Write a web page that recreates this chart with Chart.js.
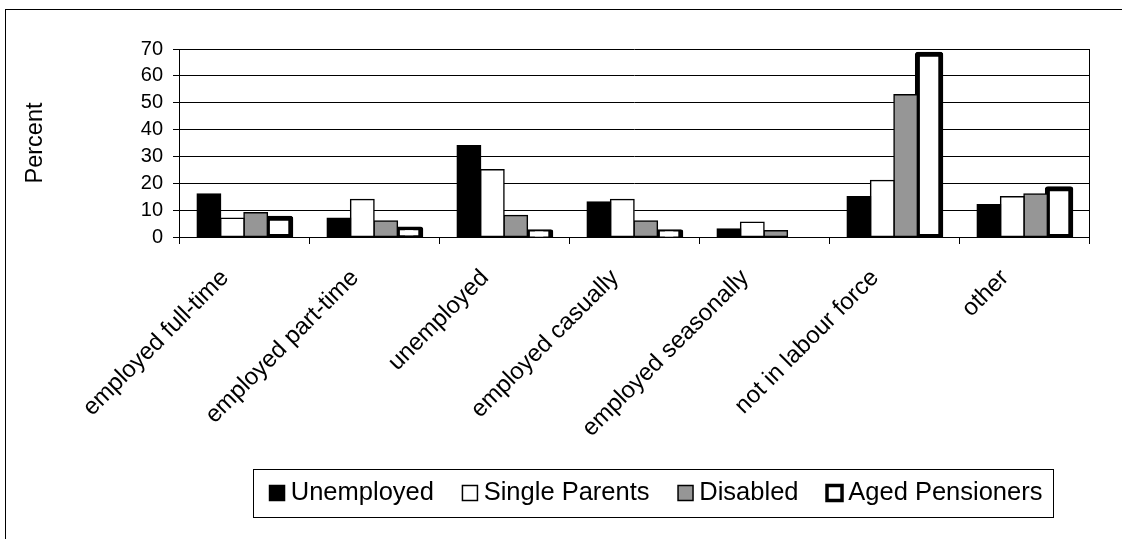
<!DOCTYPE html>
<html>
<head>
<meta charset="utf-8">
<script src="https://cdn.jsdelivr.net/npm/chart.js@4/dist/chart.umd.min.js"></script>
<style>
  html, body { margin: 0; padding: 0; background: #fff; overflow: hidden; }
  #wrap { position: relative; width: 1122px; height: 539px; overflow: hidden; }
  #frame { position: absolute; left: 5px; top: 9px; width: 1200px; height: 600px;
           border: 1px solid #000; box-sizing: border-box; }
  #c { position: absolute; left: 0; top: 0; }
</style>
</head>
<body>
<div id="wrap">
  <div id="frame"></div>
  <canvas id="c" width="1122" height="539"></canvas>
</div>
<script>
// Labour force status by income-support group (percent)
const categories = [
  'employed full-time', 'employed part-time', 'unemployed', 'employed casually',
  'employed seasonally', 'not in labour force', 'other'
];
const unemployed     = [16, 7, 34, 13, 3, 15, 12];
const singleParents  = [7, 14, 25, 14, 5.5, 21, 15];
const disabled       = [9, 6, 8, 6, 2.3, 53, 16];
const agedPensioners = [7, 3, 2, 2, 0, 68, 18];
const yMin = 0, yMax = 70, yStep = 10;

Chart.defaults.font.family = '"Liberation Sans", Arial, sans-serif';
Chart.defaults.color = '#000';

const LEGEND_FONT = 25.5;
const LEGEND_PAD = 35;
const LEGEND_BOX = 15;
const LEGEND_CENTER_X = 656;

// Centre the legend row under the plot and draw a frame around it
const legendFrame = {
  id: 'legendFrame',
  beforeDraw(chart) {
    const lg = chart.legend;
    const hb = lg.legendHitBoxes;
    if (!hb || !hb.length) return;
    const last = hb[hb.length - 1];
    const x0 = hb[0].left - (LEGEND_BOX / 2 - 1);
    const x1 = last.left + last.width;
    const d = LEGEND_CENTER_X - (x0 + x1) / 2;
    lg.left += d;
    lg.right += d;
    hb.forEach(h => { h.left += d; });
  },
  afterDraw(chart) {
    const hb = chart.legend.legendHitBoxes;
    if (!hb || !hb.length) return;
    const first = hb[0], last = hb[hb.length - 1];
    const cy = first.top + first.height / 2;
    const ctx = chart.ctx;
    ctx.save();
    ctx.strokeStyle = '#000';
    ctx.lineWidth = 1;
    const x0 = Math.round(first.left - (LEGEND_BOX / 2 - 1) - 17) + 0.5;
    const x1 = Math.round(last.left + last.width + 11) + 0.5;
    const y0 = Math.round(cy - 24) + 0.5;
    const y1 = Math.round(cy + 24) + 0.5;
    ctx.strokeRect(x0, y0, x1 - x0, y1 - y0);
    ctx.restore();
  }
};

const thin = { borderColor: '#000', borderWidth: 1.5, borderSkipped: false, inflateAmount: 0.75 };

new Chart(document.getElementById('c'), {
  type: 'bar',
  data: {
    labels: categories,
    datasets: [
      Object.assign({ label: 'Unemployed', data: unemployed, backgroundColor: '#000' }, thin),
      Object.assign({ label: 'Single Parents', data: singleParents, backgroundColor: '#fff' }, thin),
      Object.assign({ label: 'Disabled', data: disabled, backgroundColor: '#969696' }, thin),
      { label: 'Aged Pensioners', data: agedPensioners, backgroundColor: '#fff',
        borderColor: '#000', borderWidth: 5, borderSkipped: false,
        borderRadius: 3, inflateAmount: 2.5 }
    ]
  },
  options: {
    responsive: false,
    animation: false,
    events: [],
    categoryPercentage: 0.72,
    barPercentage: 1,
    layout: { padding: { top: 49, right: 33, bottom: 23.25, left: 0 } },
    plugins: {
      tooltip: { enabled: false },
      legend: {
        position: 'bottom',
        labels: {
          font: { size: LEGEND_FONT },
          color: '#000',
          usePointStyle: true,
          pointStyle: 'rect',
          boxWidth: 2,
          boxHeight: LEGEND_BOX,
          padding: LEGEND_PAD,
          generateLabels(chart) {
            const items = Chart.defaults.plugins.legend.labels.generateLabels(chart);
            items.forEach(it => { if (it.lineWidth > 2) it.lineWidth = 3.5; });
            return items;
          }
        }
      }
    },
    scales: {
      x: {
        offset: true,
        afterFit(axis) { axis.height = 445.25 - 237; },
        grid: { display: true, drawOnChartArea: false, drawTicks: true, tickLength: 7,
                offset: true, color: '#000', lineWidth: 1 },
        border: { display: true, color: '#000', width: 1 },
        ticks: { autoSkip: false, minRotation: 45, maxRotation: 45, padding: 20,
                 labelOffset: -19, font: { size: 24 }, color: '#000' }
      },
      y: {
        min: yMin, max: yMax,
        afterFit(axis) { axis.width = 179; },
        grid: { color: '#000', lineWidth: 1, drawTicks: true, tickLength: 6 },
        border: { display: true, color: '#000', width: 1 },
        ticks: { stepSize: yStep, autoSkip: false, padding: 10, font: { size: 20 }, color: '#000' },
        title: { display: true, text: 'Percent', font: { size: 23.5 }, color: '#000',
                 padding: { top: 21, bottom: 0 } }
      },
      y2: {
        position: 'right',
        min: yMin, max: yMax,
        afterFit(axis) { axis.width = 0; },
        grid: { display: false, drawTicks: false },
        border: { display: true, color: '#000', width: 1 },
        ticks: { display: false }
      }
    }
  },
  plugins: [legendFrame]
});
</script>
</body>
</html>
